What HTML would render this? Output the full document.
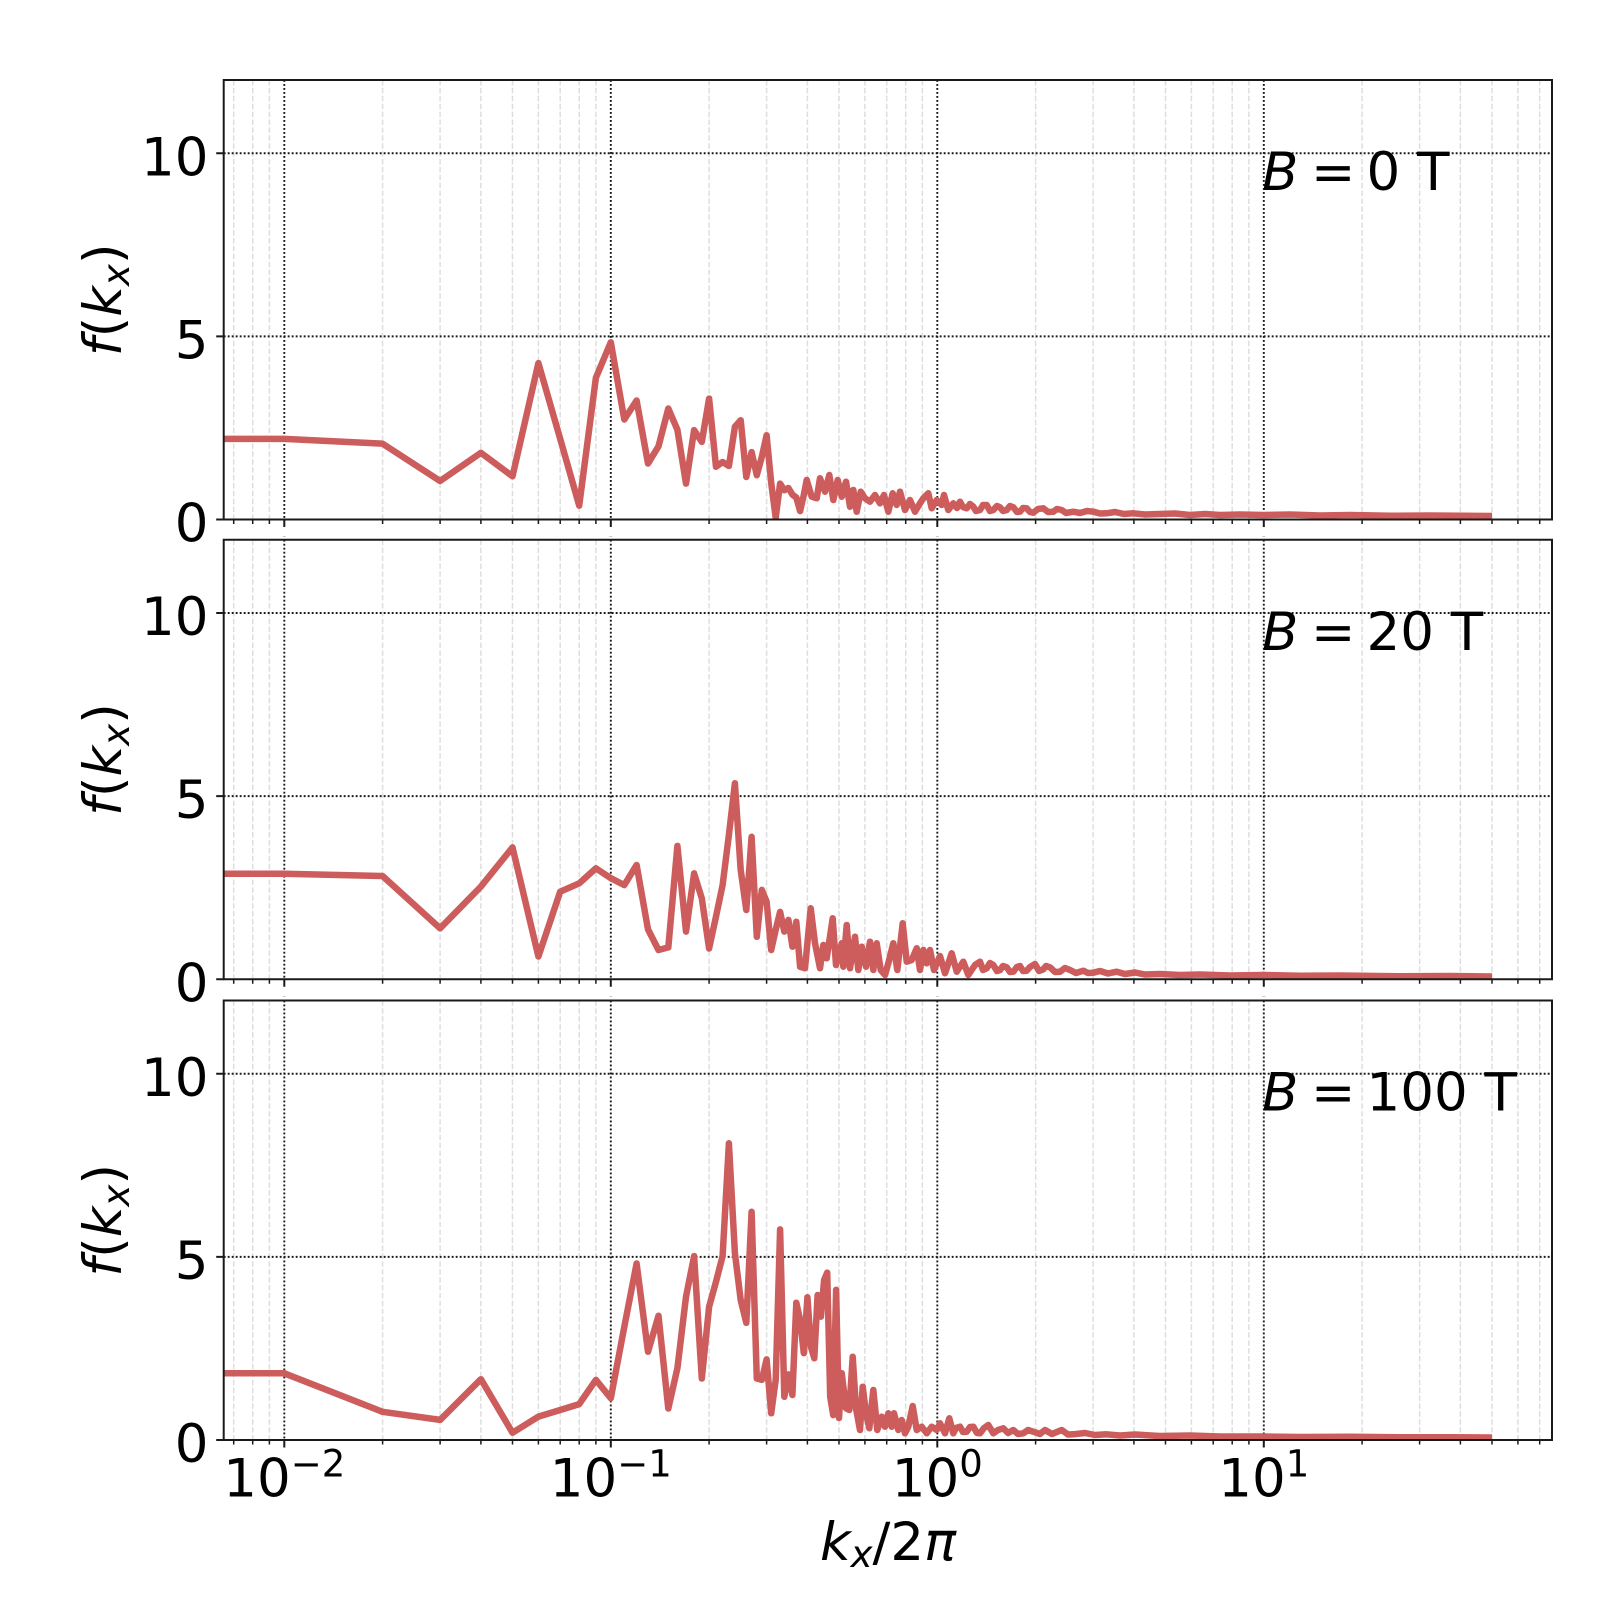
<!DOCTYPE html>
<html>
<head>
<meta charset="utf-8">
<style>
html,body{margin:0;padding:0;background:#fff;}
svg{display:block;}
text{font-family:"DejaVu Sans","Liberation Sans",sans-serif;fill:#000;}
</style>
</head>
<body>
<svg width="1600" height="1600" viewBox="0 0 1600 1600" xmlns="http://www.w3.org/2000/svg">
<rect x="0" y="0" width="1600" height="1600" fill="#fff"/>
<defs>
  <clipPath id="c1"><rect x="223.7" y="80" width="1328.3" height="439.5"/></clipPath>
  <clipPath id="c2"><rect x="223.7" y="539.75" width="1328.3" height="439.5"/></clipPath>
  <clipPath id="c3"><rect x="223.7" y="1000.5" width="1328.3" height="439.5"/></clipPath>
  <g id="grid">
    <path d="M233.7 0V439.5M252.7 0V439.5M269.4 0V439.5M382.6 0V439.5M440.1 0V439.5M480.9 0V439.5M512.5 0V439.5M538.4 0V439.5M560.2 0V439.5M579.2 0V439.5M595.9 0V439.5M709.1 0V439.5M766.6 0V439.5M807.4 0V439.5M839 0V439.5M864.9 0V439.5M886.7 0V439.5M905.7 0V439.5M922.4 0V439.5M1035.6 0V439.5M1093.1 0V439.5M1133.9 0V439.5M1165.5 0V439.5M1191.4 0V439.5M1213.2 0V439.5M1232.2 0V439.5M1248.9 0V439.5M1362.1 0V439.5M1419.6 0V439.5M1460.4 0V439.5M1492 0V439.5M1517.9 0V439.5M1539.7 0V439.5" stroke="#dedede" stroke-width="1.5" stroke-dasharray="5.5 2.4" fill="none"/>
    <path d="M284.3 0V439.5M610.8 0V439.5M937.3 0V439.5M1263.8 0V439.5M223.7 73.25H1552M223.7 256.375H1552" stroke="#1a1a1a" stroke-width="1.9" stroke-dasharray="1.9 2.1" fill="none"/>
  </g>
  <g id="axes">
    <rect x="223.7" y="0" width="1328.3" height="439.5" fill="none" stroke="#1a1a1a" stroke-width="2"/>
    <path d="M284.3 439.5v7.5M610.8 439.5v7.5M937.3 439.5v7.5M1263.8 439.5v7.5M216.2 439.5h7.5M216.2 256.375h7.5M216.2 73.25h7.5" stroke="#1a1a1a" stroke-width="2" fill="none"/>
    <path d="M233.7 439.5v4.5M252.7 439.5v4.5M269.4 439.5v4.5M382.6 439.5v4.5M440.1 439.5v4.5M480.9 439.5v4.5M512.5 439.5v4.5M538.4 439.5v4.5M560.2 439.5v4.5M579.2 439.5v4.5M595.9 439.5v4.5M709.1 439.5v4.5M766.6 439.5v4.5M807.4 439.5v4.5M839 439.5v4.5M864.9 439.5v4.5M886.7 439.5v4.5M905.7 439.5v4.5M922.4 439.5v4.5M1035.6 439.5v4.5M1093.1 439.5v4.5M1133.9 439.5v4.5M1165.5 439.5v4.5M1191.4 439.5v4.5M1213.2 439.5v4.5M1232.2 439.5v4.5M1248.9 439.5v4.5M1362.1 439.5v4.5M1419.6 439.5v4.5M1460.4 439.5v4.5M1492 439.5v4.5M1517.9 439.5v4.5M1539.7 439.5v4.5" stroke="#1a1a1a" stroke-width="1.5" fill="none"/>
  </g>
  <g id="ghost">
    <path d="M282.8 0h3M609.3 0h3M935.8 0h3M1262.3 0h3" stroke="#c8c8c8" stroke-width="1" fill="none"/>
  </g>
</defs>

<!-- Panel 1 -->
<use href="#grid" transform="translate(0,80)"/>
<polyline clip-path="url(#c1)" fill="none" stroke="#cd5c5c" stroke-width="6.5" stroke-linejoin="round" points="224,438.9 284.3,438.9 382.6,443.7 440.1,481.0 480.9,452.8 512.5,476.3 538.4,363.1 560.2,438.9 579.2,505.6 595.9,377.8 610.8,342.2 624.3,419.5 636.6,400.5 648.0,463.5 658.5,446.3 668.3,408.5 677.4,429.8 686.0,483.6 694.1,430.1 701.8,441.9 709.1,398.6 716.0,466.8 722.6,462.0 728.9,466.0 734.9,426.8 740.7,420.2 746.3,477.0 751.6,452.1 756.8,475.2 761.8,456.9 766.6,435.3 771.2,482.9 775.7,517.7 780.1,483.6 784.3,490.2 788.4,488.0 792.4,494.6 796.3,497.5 800.1,511.1 803.8,495 806.7,480 811.7,496.7 816.7,498.3 820,478.3 825,491.7 829.3,475 833.3,500 837.7,480 841.7,496.7 846,481.7 850,506.7 853.3,490 856.7,511.7 860.7,491.7 865,498.3 870,501.7 875,495 880,503.3 884,495 888.3,511.7 892.7,493.3 896.7,505 900,491.7 905,510 910,500 915,511.7 920,503.3 923.3,498.3 928.3,493.3 931.7,508.3 936.7,500 941.7,505 944,495 948.3,510 953.3,503.3 957,508 960,501.7 963,507 966.7,508.3 970,504 973.3,506.7 976,511 980,510 983,505 986.7,505 990,511 993.3,510 997,506 1000,507.3 1003,511 1006.7,510 1010,506 1013.3,507.3 1017,512 1020,511.7 1023,508 1026.7,508.3 1030,512 1033.3,512.7 1038,509 1043.3,508.3 1048,512 1053.3,511.7 1057,509 1061.7,510 1066,513 1073.3,511.7 1080,513 1087,511 1093.3,511.7 1100,513.5 1106.7,513.3 1115,512 1124,514 1133.3,513.3 1145,514.5 1160,514 1175,513.5 1190,515 1205,514 1220,515 1240,514.5 1263,515 1290,514.5 1320,515.5 1350,515 1390,515.8 1430,515.5 1492,516"/>
<use href="#axes" transform="translate(0,80)"/>
<use href="#ghost" transform="translate(0,536.5)"/>
<text x="208.5" y="541.5" font-size="53" text-anchor="end">0</text>
<text x="208.5" y="358.4" font-size="53" text-anchor="end">5</text>
<text x="208.5" y="175.25" font-size="53" text-anchor="end">10</text>
<text transform="translate(121,299.75) rotate(-90)" font-size="53" text-anchor="middle"><tspan font-style="italic">f</tspan>(<tspan font-style="italic">k</tspan><tspan font-style="italic" font-size="37" dy="8">x</tspan><tspan dy="-8">)</tspan></text>
<text x="1262" y="190" font-size="53" font-style="italic">B</text>
<text x="1311" y="190" font-size="53">=</text>
<text x="1366.5" y="190" font-size="53">0 T</text>

<!-- Panel 2 -->
<use href="#grid" transform="translate(0,539.75)"/>
<polyline clip-path="url(#c2)" fill="none" stroke="#cd5c5c" stroke-width="6.5" stroke-linejoin="round" points="224,873.8 284.3,873.8 382.6,876.0 440.1,928.3 480.9,886.6 512.5,847.4 538.4,956.5 560.2,891.7 579.2,883.3 595.9,868.3 610.8,878.2 624.3,885.1 636.6,865.0 648.0,929.4 658.5,950.0 668.3,947.4 677.4,845.9 686.0,931.6 694.1,873.4 701.8,898.3 709.1,948.5 716.0,916.6 722.6,885.1 728.9,834.9 734.9,783.3 740.7,870.1 746.3,910.0 751.6,836.8 756.8,936.8 761.8,889.9 766.6,901.6 771.2,950.0 775.7,929.8 780.1,911.9 784.3,931.6 788.4,919.9 792.4,946.7 796.3,921.8 800.1,966.8 805,968.3 810.7,908.3 815,943.3 820,968.3 823.3,945 826.7,958.3 832.7,918.3 836,965 841.7,943.3 843.3,966.7 846.7,925 850,968.3 855,936.7 858.3,970 861.7,946.7 866,966.7 870,941.7 873.3,970 876.7,943.3 880.7,970 885,975 888.3,963.3 893.3,943.3 897.3,970 902.7,923.3 906.7,961.7 911.7,960 916.7,948.3 920,970 923.3,950 926.7,963.3 930,950 934,970 940,956 945,973.3 951.7,953.3 956.7,971.7 963.3,961.7 968.3,975 975,965 980,961.7 983,970 986.7,968.3 990,963 993.3,965 997,971 1000,970 1003,966 1006.7,967.3 1010,972 1013.3,971.7 1017,967 1020,966 1023,971 1026.7,970.7 1030,967 1035,964 1039,971 1043.3,969.3 1046,966 1050,967.3 1055,972 1060,971.7 1065,968 1070,970 1076,973 1083.3,970.7 1088,973 1093.3,972.7 1100,971 1108,973.5 1116.7,971.7 1125,974 1135,972.5 1145,974.5 1160,974 1180,975 1200,974.5 1230,975.5 1263,975 1300,975.8 1340,975.5 1400,976.3 1450,976 1492,976.5"/>
<use href="#axes" transform="translate(0,539.75)"/>
<use href="#ghost" transform="translate(0,996.5)"/>
<text x="208.5" y="1001.25" font-size="53" text-anchor="end">0</text>
<text x="208.5" y="818.1" font-size="53" text-anchor="end">5</text>
<text x="208.5" y="635" font-size="53" text-anchor="end">10</text>
<text transform="translate(121,759.5) rotate(-90)" font-size="53" text-anchor="middle"><tspan font-style="italic">f</tspan>(<tspan font-style="italic">k</tspan><tspan font-style="italic" font-size="37" dy="8">x</tspan><tspan dy="-8">)</tspan></text>
<text x="1262" y="649.75" font-size="53" font-style="italic">B</text>
<text x="1311" y="649.75" font-size="53">=</text>
<text x="1366.5" y="649.75" font-size="53">20 T</text>

<!-- Panel 3 -->
<use href="#grid" transform="translate(0,1000.5)"/>
<polyline clip-path="url(#c3)" fill="none" stroke="#cd5c5c" stroke-width="6.5" stroke-linejoin="round" points="224,1373.3 284.3,1373.3 382.6,1411.8 440.1,1419.9 480.9,1379.2 512.5,1432.7 538.4,1416.6 560.2,1410.0 579.2,1404.1 595.9,1379.9 610.8,1398.2 624.3,1326.8 636.6,1263.5 648.0,1351.7 658.5,1315.8 668.3,1408.5 677.4,1368.2 686.0,1296.8 694.1,1256.1 701.8,1378.5 709.1,1306.7 716.0,1281.8 722.6,1256.1 728.9,1143.3 734.9,1253.2 740.7,1300.1 746.3,1322.8 751.6,1211.8 756.8,1378.5 761.8,1379.9 766.6,1359.4 771.2,1413.3 775.7,1379.9 780.1,1229.4 784.3,1396.8 788.4,1374.4 792.4,1395.0 796.3,1302.7 800.1,1319.9 803.8,1353.2 807.4,1297.2 810.9,1346.6 814.3,1358.3 817.6,1295.0 820.9,1316.6 824.1,1280.0 827.2,1272.6 830.2,1396.8 833.2,1415.1 836.1,1289.8 839.0,1418.0 841.7,1373.3 846,1408.3 849.3,1410 852.7,1356.7 856,1408.3 860,1430 862.7,1386.7 866,1413.3 869.3,1428.3 873.3,1390 877.3,1430 881.7,1416.7 885,1426.7 888.3,1413.3 891.7,1426.7 894,1413.3 898.3,1430 901.7,1420 905,1433.3 908.3,1426.7 912.7,1406 916.7,1430 921.7,1426.7 926.7,1433.3 931.7,1426.7 936.7,1430 940,1423.3 945,1433.3 949.3,1418.3 953.3,1433.3 956,1428 960,1426.7 963,1432 966.7,1431.7 970,1427 973.3,1426.7 977,1433 980,1433.3 984,1428 988.3,1425 993.3,1433.3 998,1430 1003.3,1428.3 1008,1433 1013.3,1430 1018,1434 1023.3,1433.3 1028,1430 1033.3,1431.7 1040,1434 1045,1430 1052,1434 1061.7,1430 1068,1434.5 1073.3,1434.3 1085,1433 1095,1435 1106.7,1434.3 1120,1435.5 1135,1434.5 1160,1436 1190,1435.5 1220,1436.5 1263,1436.5 1300,1437 1350,1436.8 1400,1437.3 1450,1437.2 1492,1437.5"/>
<use href="#axes" transform="translate(0,1000.5)"/>
<text x="208.5" y="1462" font-size="53" text-anchor="end">0</text>
<text x="208.5" y="1278.9" font-size="53" text-anchor="end">5</text>
<text x="208.5" y="1095.75" font-size="53" text-anchor="end">10</text>
<text transform="translate(121,1220.25) rotate(-90)" font-size="53" text-anchor="middle"><tspan font-style="italic">f</tspan>(<tspan font-style="italic">k</tspan><tspan font-style="italic" font-size="37" dy="8">x</tspan><tspan dy="-8">)</tspan></text>
<text x="1262" y="1110.5" font-size="53" font-style="italic">B</text>
<text x="1311" y="1110.5" font-size="53">=</text>
<text x="1366.5" y="1110.5" font-size="53">100 T</text>

<!-- x tick labels -->
<text x="284.3" y="1496.7" font-size="53" text-anchor="middle">10<tspan font-size="37" dy="-20">−2</tspan></text>
<text x="610.8" y="1496.7" font-size="53" text-anchor="middle">10<tspan font-size="37" dy="-20">−1</tspan></text>
<text x="937.3" y="1496.7" font-size="53" text-anchor="middle">10<tspan font-size="37" dy="-20">0</tspan></text>
<text x="1263.8" y="1496.7" font-size="53" text-anchor="middle">10<tspan font-size="37" dy="-20">1</tspan></text>

<!-- x axis label -->
<text x="888" y="1560" font-size="53" text-anchor="middle"><tspan font-style="italic">k</tspan><tspan font-style="italic" font-size="37" dy="7">x</tspan><tspan dy="-7">/2</tspan><tspan font-style="italic">π</tspan></text>
</svg>
</body>
</html>
